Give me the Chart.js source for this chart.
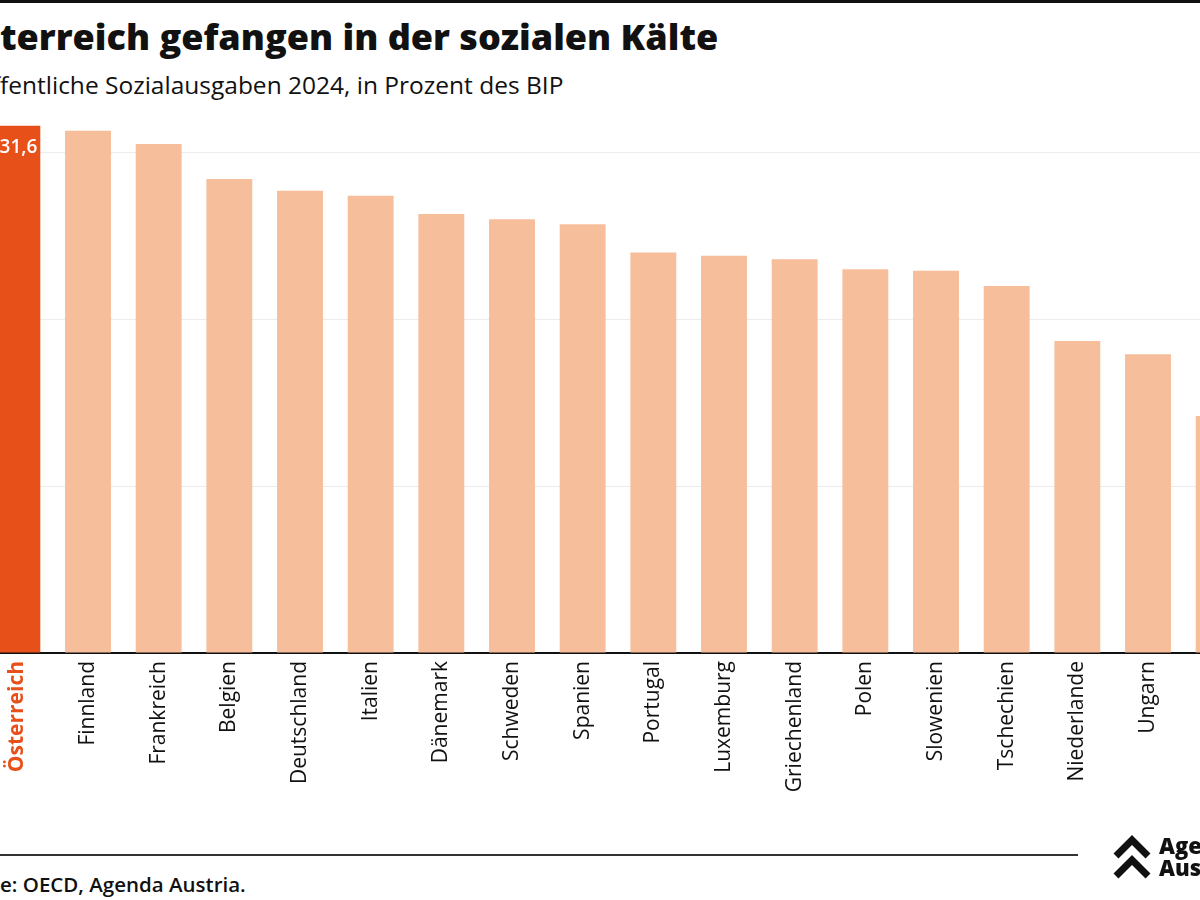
<!DOCTYPE html>
<html>
<head>
<meta charset="utf-8">
<script src="https://cdn.jsdelivr.net/npm/chart.js@4"></script>
<style>
  html, body { margin: 0; padding: 0; background: #fff; overflow: hidden; }
  body { width: 1200px; height: 900px; position: relative; font-family: "Open Sans", "Noto Sans", sans-serif; color: #111; }
  .topline { position: absolute; left: 0; top: 0; width: 1200px; height: 3px; background: #111; }
  .cut { position: absolute; left: 0; white-space: nowrap; }
  .cut .off { position: absolute; right: 100%; }
  #title { top: 12px; font-size: 36px; font-weight: 800; }
  #subtitle { top: 68px; font-size: 24.5px; font-weight: 400; }
  #chartBox { position: absolute; left: -18px; top: 119px; width: 1272px; height: 714px; }
  .footline { position: absolute; left: 0; top: 854px; width: 1078px; height: 2px; background: #333; }
  #source { top: 870px; font-size: 20.5px; font-weight: 600; }
  .logo { position: absolute; left: 1112px; top: 834px; }
  .logotext { position: absolute; left: 1159px; top: 834px; font-size: 22px; font-weight: 800; line-height: 22px; }
</style>
</head>
<body>
<div class="topline"></div>
<div id="title" class="cut"><span class="off">Ös</span>terreich gefangen in der sozialen Kälte</div>
<div id="subtitle" class="cut"><span class="off">Öf</span>fentliche Sozialausgaben 2024, in Prozent des BIP</div>
<div id="chartBox"><canvas id="myChart"></canvas></div>
<div class="footline"></div>
<div id="source" class="cut"><span class="off">Quell</span>e: OECD, Agenda Austria.</div>
<svg class="logo" width="40" height="48" viewBox="0 0 40 48">
  <polyline points="4,22 20,6 36,22" fill="none" stroke="#111" stroke-width="7" />
  <polyline points="4,42 20,26 36,42" fill="none" stroke="#111" stroke-width="7" />
</svg>
<div class="logotext">Agenda<br>Austria</div>
<script>
const countries = ['Österreich', 'Finnland', 'Frankreich', 'Belgien', 'Deutschland', 'Italien',
    'Dänemark', 'Schweden', 'Spanien', 'Portugal', 'Luxemburg', 'Griechenland', 'Polen',
    'Slowenien', 'Tschechien', 'Niederlande', 'Ungarn', 'Irland'];
const spending = [31.6, 31.3, 30.5, 28.4, 27.7, 27.4, 26.3, 26.0, 25.7, 24.0, 23.8, 23.6, 23.0,
    22.9, 22.0, 18.7, 17.9, 14.2];
const yTicks = [0, 10, 20, 30];

const highlight = '#E8501A';
const pale = '#F7BE9B';
const fontFamily = '"Open Sans", "Noto Sans", sans-serif';

const valueLabel = {
    id: 'valueLabel',
    afterDatasetsDraw(chart) {
        const bar = chart.getDatasetMeta(0).data[0];
        const ctx = chart.ctx;
        ctx.save();
        ctx.fillStyle = '#fff';
        ctx.font = '600 19px ' + fontFamily;
        ctx.textAlign = 'right';
        ctx.textBaseline = 'middle';
        ctx.fillText(spending[0].toFixed(1).replace('.', ','), bar.x + bar.width / 2 - 3, bar.y + 22);
        ctx.restore();
    }
};

document.addEventListener('DOMContentLoaded', () => {
    const ctx = document.getElementById('myChart').getContext('2d');
    window.chart = new Chart(ctx, {
        type: 'bar',
        data: {
            labels: countries,
            datasets: [{
                data: spending,
                backgroundColor: countries.map((c, i) => i === 0 ? highlight : pale),
                barPercentage: 0.65,
                categoryPercentage: 1
            }]
        },
        options: {
            responsive: true,
            maintainAspectRatio: false,
            animation: false,
            layout: { padding: 0 },
            plugins: { legend: { display: false }, tooltip: { enabled: false } },
            scales: {
                x: {
                    grid: { display: false, drawTicks: false },
                    border: { display: true, color: '#111', width: 2 },
                    afterFit: (scale) => { scale.height = 180; },
                    ticks: {
                        autoSkip: false,
                        maxRotation: 90,
                        minRotation: 90,
                        padding: 8,
                        color: (c) => c.index === 0 ? highlight : '#111',
                        font: (c) => ({
                            family: fontFamily,
                            size: 21,
                            weight: c.index === 0 ? '700' : '400'
                        })
                    }
                },
                y: {
                    min: 0,
                    max: 32,
                    afterFit: (scale) => { scale.width = 0; },
                    afterBuildTicks: (scale) => { scale.ticks = yTicks.map(v => ({ value: v })); },
                    ticks: { display: false },
                    border: { display: false },
                    grid: {
                        drawTicks: false,
                        color: (c) => c.tick && c.tick.value === 0 ? 'rgba(0,0,0,0)' : '#ECECEC',
                        lineWidth: 1
                    }
                }
            }
        },
        plugins: [valueLabel]
    });
});
</script>
</body>
</html>
